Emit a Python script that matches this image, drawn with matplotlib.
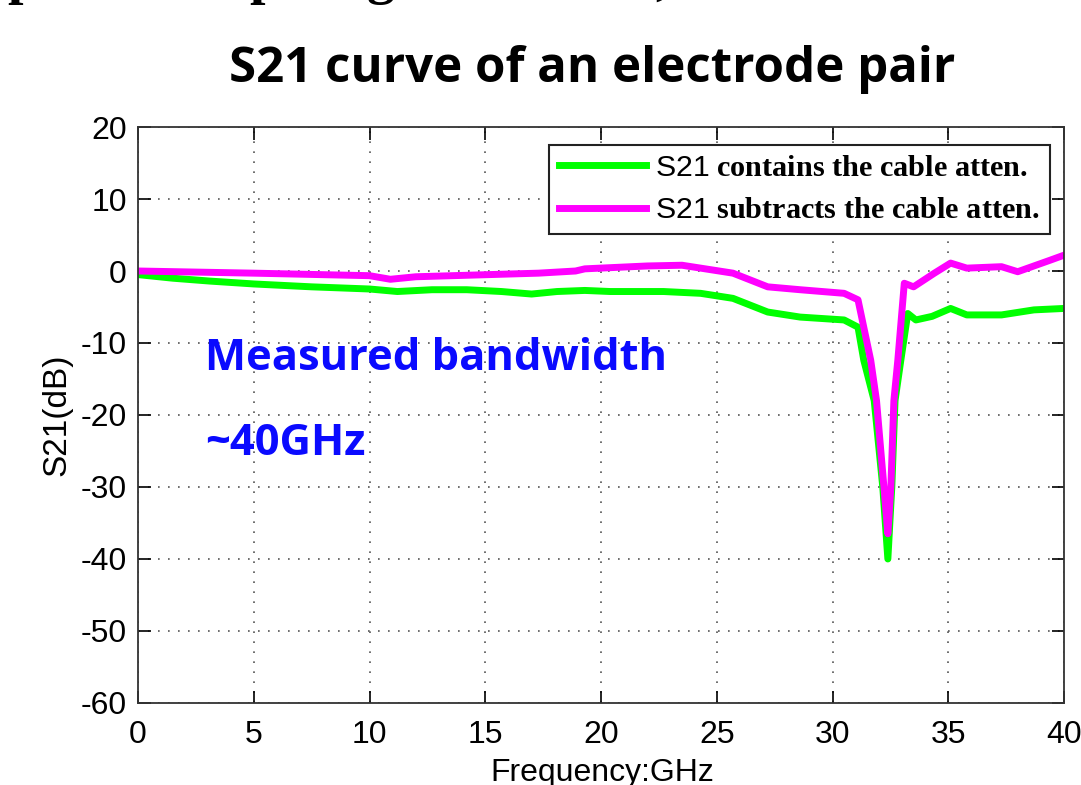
import matplotlib
matplotlib.use('Agg')
import matplotlib.pyplot as plt

# S21 data (GHz, dB)
freq_with_cable = [0, 1.5, 3.1, 5, 7.5, 10, 11.2, 12.7, 14.2, 15.7, 17, 18.1, 19.3, 20.4,
                   22.7, 24.3, 25.7, 27.2, 28.6, 30.5, 31.1, 31.35, 31.8, 32.17, 32.39,
                   32.56, 32.7, 32.95, 33.25, 33.6, 34.3, 35.1, 35.8, 37.3, 38.7, 40]
s21_with_cable = [-0.5, -1.0, -1.4, -1.8, -2.2, -2.5, -2.85, -2.6, -2.6, -2.85, -3.2, -2.85,
                  -2.7, -2.85, -2.85, -3.1, -3.8, -5.7, -6.4, -6.8, -7.8, -12.4, -18, -30,
                  -40, -30, -18, -12.4, -5.9, -6.8, -6.3, -5.2, -6.1, -6.1, -5.4, -5.2]

freq_no_cable = [0, 5, 10, 10.9, 12, 15.7, 17.3, 18.9, 19.3, 22, 23.5, 24.3, 25.7, 27.2,
                 28.6, 30.5, 31.1, 31.65, 31.9, 32.22, 32.39, 32.52, 32.65, 32.82, 33.1,
                 33.5, 34.4, 35.1, 35.8, 37.3, 38.0, 39.4, 40]
s21_no_cable = [0, -0.3, -0.65, -1.15, -0.8, -0.45, -0.3, 0, 0.3, 0.7, 0.8, 0.4, -0.3, -2.2,
                -2.6, -3.1, -4, -12.4, -18, -30, -36.5, -30, -18, -12.4, -1.7, -2.2, -0.3,
                1.1, 0.4, 0.6, -0.1, 1.5, 2.2]

xticks = list(range(0, 41, 5))
yticks = list(range(-60, 21, 10))

plt.rcParams['mathtext.fontset'] = 'custom'
plt.rcParams['mathtext.sf'] = 'Liberation Sans'
plt.rcParams['axes.unicode_minus'] = False

fig = plt.figure(figsize=(10.81, 7.85), dpi=100)
ax = fig.add_axes([0.1277, 0.1045, 0.8566, 0.7337])

ax.plot(freq_with_cable, s21_with_cable, color='#00ff00', lw=5, solid_joinstyle='round',
        label=r'$\mathsf{S21}$ contains the cable atten.')
ax.plot(freq_no_cable, s21_no_cable, color='#ff00ff', lw=5, solid_joinstyle='round',
        label=r'$\mathsf{S21}$ subtracts the cable atten.')

ax.set_xlim(0, 40)
ax.set_ylim(-60, 20)
ax.set_xticks(xticks)
ax.set_yticks(yticks)
ax.grid(True, color='#555555', linestyle=(0, (1, 5)), lw=1.2)
ax.tick_params(direction='in', length=9, top=True, right=True, labelsize=23, width=1.2)
ax.tick_params(axis='x', pad=12)
ax.tick_params(axis='y', pad=8)
for lab in ax.get_xticklabels() + ax.get_yticklabels():
    lab.set_family('Liberation Sans')
for sp in ax.spines.values():
    sp.set_linewidth(1.3)
    sp.set_color('#333333')

ax.set_ylabel('S21(dB)', fontsize=24, family='Liberation Sans', labelpad=6)

leg = ax.legend(loc='upper right', bbox_to_anchor=(0.985, 0.969), borderaxespad=0,
                prop={'family': 'Liberation Serif', 'weight': 'bold', 'size': 21.8},
                handlelength=2.9, handletextpad=0.3, labelspacing=0.5, borderpad=0.33,
                fancybox=False, framealpha=1, edgecolor='#222222')
leg.get_frame().set_linewidth(1.5)

ax.text(2.9, -13.7, 'Measured bandwidth', color='#0a0aff', fontsize=31.3,
        family='Open Sans', weight='bold', va='baseline')
ax.text(2.9, -25.5, '~40GHz', color='#0a0aff', fontsize=31.3,
        family='Open Sans', weight='bold', va='baseline')

fig.text(592 / 1081, 1 - 82 / 785, 'S21 curve of an electrode pair', ha='center',
         va='baseline', fontsize=35.4, family='Open Sans', weight='bold')

fig.text(602 / 1081, 4 / 785, 'Frequency:GHz', ha='center', va='baseline',
         fontsize=23, family='Liberation Sans')

# descenders of the cut-off line above the chart: only ~5 px should show
H = 785
tops = []
for x, ch in [(7, 'p'), (249, 'p'), (366, 'g'), (655, ',')]:
    tops.append(fig.text(x / 1081, 0.9, ch, fontsize=40, family='Liberation Serif',
                         weight='bold', va='bottom'))
fig.canvas.draw()
r = fig.canvas.get_renderer()
for t in tops:
    bb = t.get_window_extent(r)
    t.set_y(0.9 + ((H - 5) - bb.y0) / H)

fig.savefig('out.png', dpi=100)
